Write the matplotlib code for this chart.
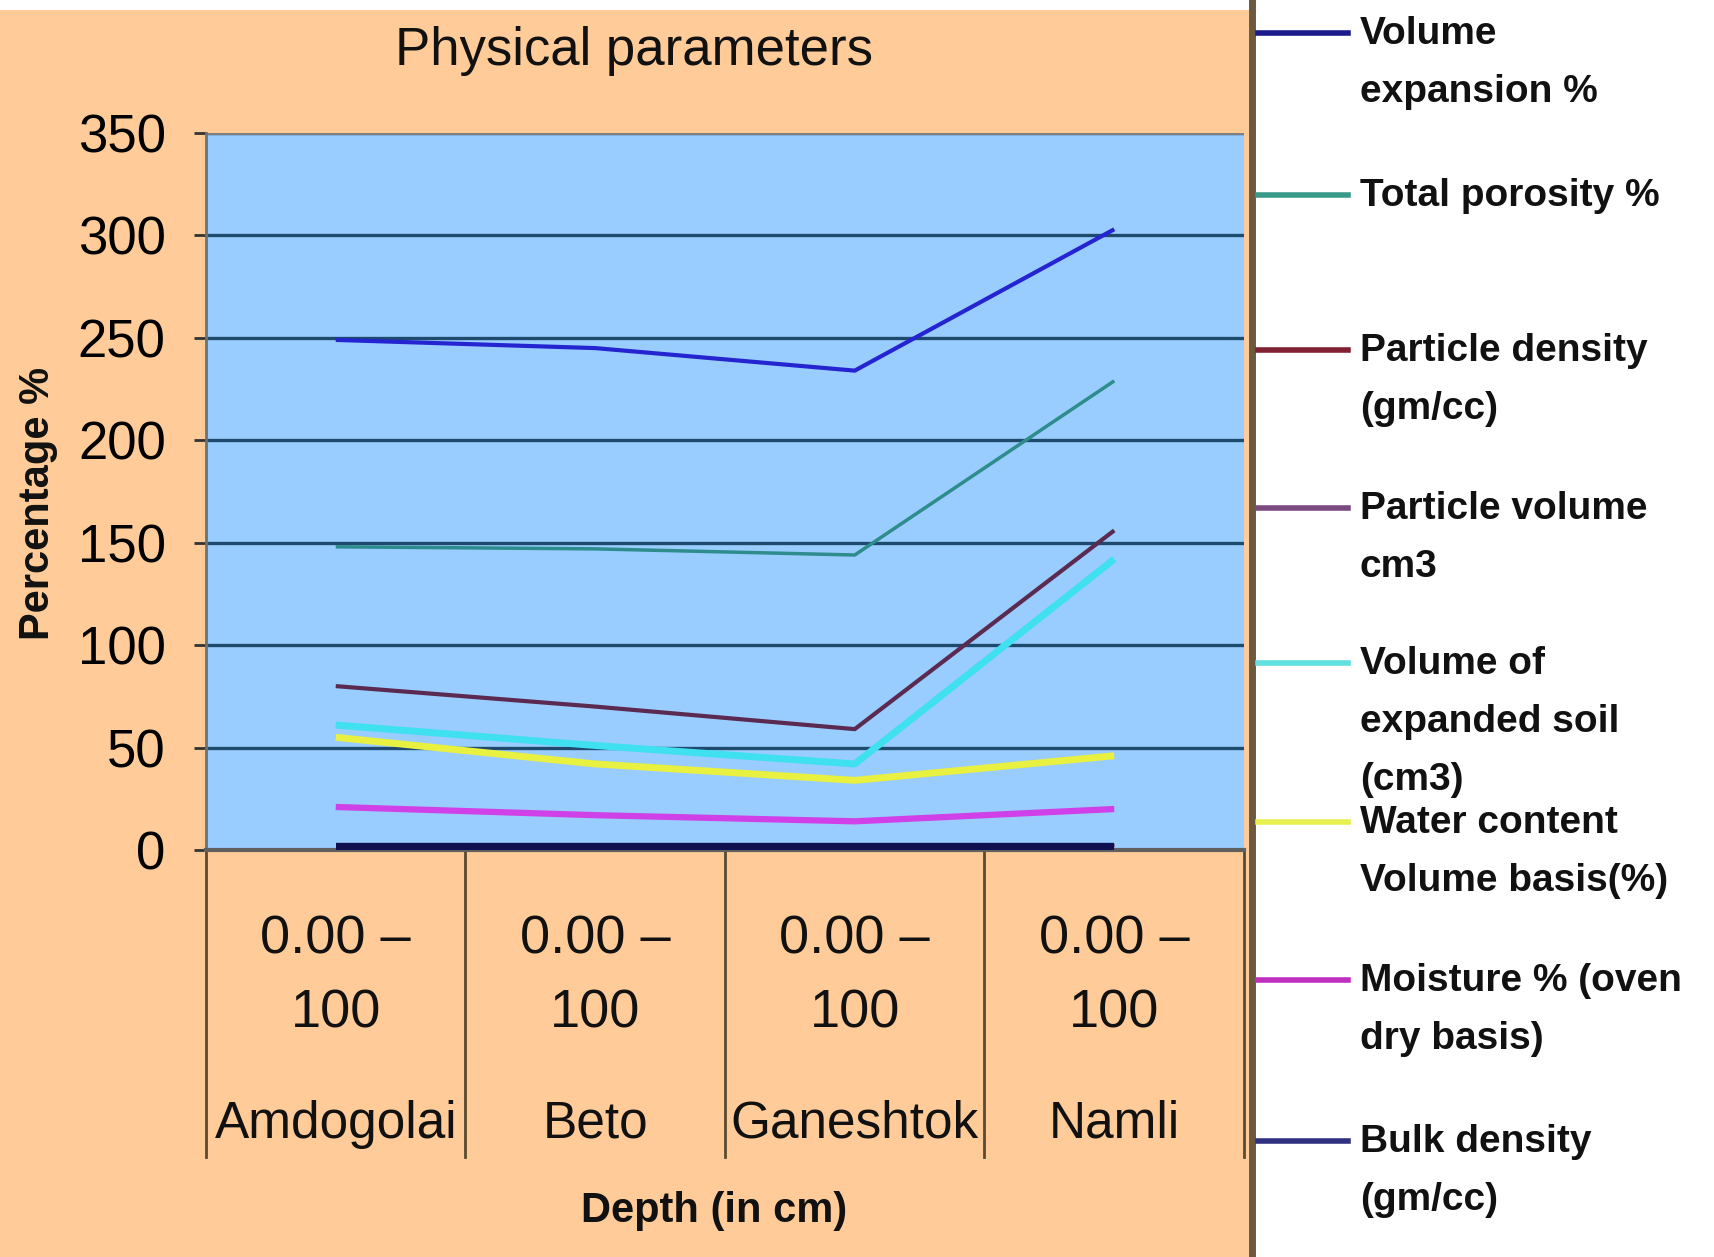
import matplotlib.pyplot as plt
from matplotlib.lines import Line2D
from matplotlib.patches import Rectangle

# data
sites = ['Amdogolai', 'Beto', 'Ganeshtok', 'Namli']
depths = ['0.00 \u2013\n100', '0.00 \u2013\n100', '0.00 \u2013\n100', '0.00 \u2013\n100']

volume_expansion = [249, 245, 234, 303]
total_porosity = [148, 147, 144, 229]
particle_density = [2.6, 2.6, 2.6, 2.6]
particle_volume = [80, 70, 59, 156]
expanded_soil = [61, 51, 42, 142]
water_content = [55, 42, 34, 46]
moisture = [21, 17, 14, 20]
bulk_density = [1.3, 1.3, 1.3, 1.3]

names = ['Volume\nexpansion %', 'Total porosity %', 'Particle density\n(gm/cc)',
         'Particle volume\ncm3', 'Volume of\nexpanded soil\n(cm3)',
         'Water content\nVolume basis(%)', 'Moisture % (oven\ndry basis)',
         'Bulk density\n(gm/cc)']
series = [volume_expansion, total_porosity, particle_density, particle_volume,
          expanded_soil, water_content, moisture, bulk_density]
colors = ['#2424D0', '#2E8C8C', '#7A1F2A', '#5A2A50', '#3FE0F0', '#E8F040',
          '#D040E8', '#101050']
widths = [3, 2.5, 2.5, 3, 5, 5, 4.5, 6]
legend_colors = ['#1A1A8C', '#3A9A8A', '#802030', '#7A4A80', '#60E0E0', '#E8F050',
                 '#C030C0', '#303080']

W, H = 1715, 1257
fig = plt.figure(figsize=(W / 100, H / 100), dpi=100)
fig.patch.set_facecolor('white')

# peach panel and the dark divider
fig.add_artist(Rectangle((0, 0), 1250 / W, 1 - 10 / H, transform=fig.transFigure,
                         facecolor='#FFCC99', edgecolor='none', zorder=0))
fig.add_artist(Line2D([1252 / W, 1252 / W], [0, 1], transform=fig.transFigure,
                      color='#6B5A40', lw=5, zorder=1))

ax = fig.add_axes([206 / W, 1 - 850 / H, (1244 - 206) / W, (850 - 133) / H])
ax.set_facecolor('#99CCFF')

x = list(range(len(sites)))
for vals, c, lw in zip(series, colors, widths):
    ax.plot(x, vals, color=c, lw=lw, solid_capstyle='butt', zorder=3)

ax.set_xlim(-0.5, 3.5)
ax.set_ylim(0, 350)
ax.set_yticks(range(0, 351, 50))
ax.yaxis.grid(True, color='#1E4A6E', lw=2.4)
ax.set_axisbelow(True)

for s in ['top', 'right']:
    ax.spines[s].set_visible(False)
ax.spines['left'].set_color('#707070')
ax.spines['left'].set_linewidth(2)
ax.spines['bottom'].set_color('#606060')
ax.spines['bottom'].set_linewidth(3)
ax.axhline(350, color='#808080', lw=3, zorder=2)

ax.tick_params(axis='y', length=9, width=2, color='#333333', pad=20,
               labelsize=38)
for lab in ax.get_yticklabels():
    lab.set_family(['Liberation Sans Narrow', 'Liberation Sans'])
ax.set_xticks([])

# category labels in two levels, with Excel style dividers
tr = ax.get_xaxis_transform()
for i in x:
    top, bottom = depths[i].split('\n')
    ax.text(i, (850 - 953) / 717, top, transform=tr,
            ha='center', va='baseline', fontsize=39,
            family=['Liberation Sans Narrow', 'Liberation Sans'], color='#111111')
    ax.text(i, (850 - 1027) / 717, bottom, transform=tr,
            ha='center', va='baseline', fontsize=39,
            family=['Liberation Sans Narrow', 'Liberation Sans'], color='#111111')
    ax.text(i, (850 - 1138) / 717, sites[i], transform=tr,
            ha='center', va='baseline', fontsize=37,
            family=['Liberation Sans Narrow', 'Liberation Sans'], color='#111111')
for b in [-0.5, 0.5, 1.5, 2.5, 3.5]:
    ax.plot([b, b], [0, (850 - 1157) / 717], transform=tr, color='#5A4A30',
            lw=2, clip_on=False)

ax.text(0.49, (850 - 1222) / 717, 'Depth (in cm)', transform=ax.transAxes,
        ha='center', va='baseline', fontsize=30, fontweight='bold',
        family=['Liberation Sans Narrow', 'Liberation Sans'], color='#111111')

fig.text(38 / W, 1 - 503 / H, 'Percentage %', rotation=90, ha='center',
         va='center', fontsize=30, fontweight='bold',
         family=['Liberation Sans', 'DejaVu Sans'], color='#111111')

fig.text(634 / W, 1 - 65 / H, 'Physical parameters', ha='center', va='baseline',
         fontsize=38, family=['Liberation Sans Narrow', 'Liberation Sans'],
         color='#111111')

# legend drawn by hand to match the uneven spacing
legend_y = [33, 195, 350, 508, 663, 822, 980, 1141]
for name, c, ly in zip(names, legend_colors, legend_y):
    fig.add_artist(Line2D([1258 / W, 1348 / W], [1 - ly / H, 1 - ly / H],
                          transform=fig.transFigure, color=c, lw=4))
    fig.text(1360 / W, 1 - (ly - 17) / H, name, ha='left', va='top',
             fontsize=28, fontweight='bold', linespacing=1.78,
             family=['Liberation Sans', 'DejaVu Sans'], color='#111111')

fig.savefig('out.png', dpi=100)
